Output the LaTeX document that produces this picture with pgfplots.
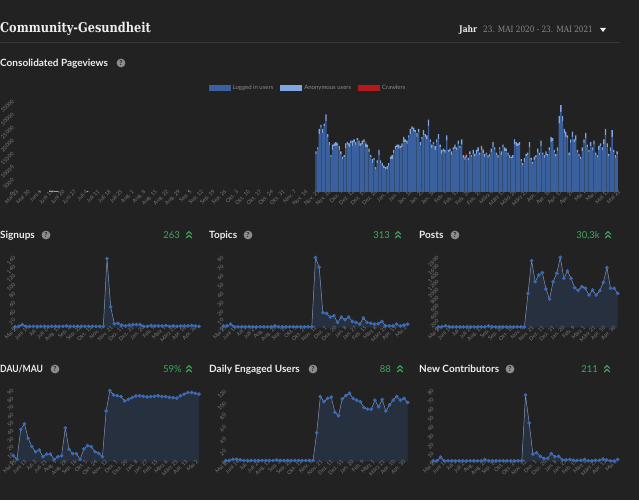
\documentclass[border=0pt]{standalone}
\usepackage{pgfplots}
\pgfplotsset{compat=1.18}
\usepackage{pgfplotstable}
\usepackage{fontspec}
\setmainfont{Lato}
\newfontfamily\slab[FakeStretch=0.84]{DejaVu Serif}
\definecolor{bg}{HTML}{222222}
\definecolor{rulec}{HTML}{383838}
\definecolor{tickc}{HTML}{7A7A7A}
\definecolor{titlec}{HTML}{EDEDED}
\definecolor{grayc}{HTML}{8A8A8A}
\definecolor{grn}{HTML}{3DAA5A}
\definecolor{logged}{HTML}{3A619E}
\definecolor{anon}{HTML}{7FA6E0}
\definecolor{crawl}{HTML}{B3191C}
\definecolor{mk}{HTML}{3A6AB6}
\definecolor{lnc}{HTML}{8595B5}
\definecolor{qbg}{HTML}{8C8C8C}

\pgfplotsset{
  small/.style={
    scale only axis, anchor=south west, clip=false,
    xmin=0, xmax=350, ymin=0, enlargelimits=false,
    axis line style={draw=none}, major tick length=0pt,
    tick label style={font=\fontsize{5.4}{6}\selectfont, text=tickc},
    /pgf/number format/assume math mode=true,
    /pgf/number format/1000 sep={},
    yticklabel style={rotate=45, anchor=east, inner sep=0.5pt},
    xticklabel style={rotate=45, anchor=east, inner sep=0.5pt, xshift=3pt, yshift=-1pt},
    scaled y ticks=false,
  },
  xtwenty/.style={xtick={0,20,...,340},
    xticklabels={Mai 25,Juni 14,Juli 4,Juli 24,Aug. 13,Sep. 2,Sep. 22,Okt. 12,Nov. 1,Nov. 21,Dez. 11,Dez. 31,Jan. 20,Feb. 9,März 1,März 21,Apr. 10,Apr. 30}},
  xnineteen/.style={xtick={0,19,...,342},
    xticklabels={Mai 25,Juni 13,Juli 2,Juli 21,Aug. 9,Aug. 28,Sep. 16,Okt. 5,Okt. 24,Nov. 12,Dez. 1,Dez. 20,Jan. 8,Jan. 27,Feb. 15,März 6,März 25,Apr. 13,Mai 2}},
  areaf/.style={fill=mk, fill opacity=0.2, draw=none},
  linep/.style={lnc, line width=0.5pt, mark=*, mark size=1.6pt, mark options={fill=mk, draw=mk}},
}

\newcommand{\chev}[1]{\begin{scope}[shift={(#1)}]
  \draw[grn, line width=1.1pt] (-2.8pt,0.6pt) -- (0pt,3.3pt) -- (2.8pt,0.6pt);
  \draw[grn, line width=1.1pt] (-2.8pt,-3pt) -- (0pt,-0.3pt) -- (2.8pt,-3pt);
\end{scope}}
\newcommand{\qmark}[1]{\fill[qbg] (#1) circle (4.4pt);
  \node[font=\bfseries\fontsize{6.8}{7}\selectfont, text=bg, inner sep=0pt] at (#1) {?};}

\pgfplotstableread{
d l a c
15 0 0.2 0
21 0 0.3 0
22 0 0.4 0
23 0 0.5 0
24 0 0.3 0
25 0 0.4 0
26 0 0.3 0
44 0 0.3 0
105 0.1 0.3 0
182 14.3 1.2 0
183 16.2 0.8 0
184 22 2 0
185 24.5 1 0
186 22.5 1.5 0
187 25.1 0.9 0
188 27 2.5 0
189 20.9 1.1 0
190 17.8 1.2 0
191 13.2 0.8 0
192 16 2 0
193 17.5 1 0
194 17.5 1.5 0
195 17.6 0.9 0
196 16 1.5 0
197 14.4 1.1 0
198 12.3 1.2 0
199 13.2 0.8 0
200 16.5 2 0
201 18 1 0
202 17 1.5 0
203 18.6 0.9 0
204 17.5 2 0
205 18.9 1.1 0
206 17.8 1.2 0
207 19.7 0.8 0
208 17.5 2 0
209 17.5 1 0
210 18 1.5 0
211 19.1 0.9 0
212 17 1.5 0.8
213 16.9 1.1 0
214 15.3 1.2 0
215 13.2 0.8 0
216 11 1.5 0
217 12 1 0
218 8.5 1 0
219 11.1 0.9 0
220 14 2 0
221 10.9 1.1 0
222 9.8 1.2 0
223 9.2 0.8 0
224 8.5 1 0
225 8.8 1 0
226 9.9 1.1 0
227 12.6 0.9 0
228 12.5 1.5 0
229 14.9 1.1 0
230 16.3 1.2 0
231 17.2 0.8 0
232 16.5 1.5 0
233 16.5 1 0
234 17 1.5 0
235 19 2 0
236 18.9 1.1 0
237 18.3 1.2 0
238 20.7 0.8 0
239 22 2 0
240 24 1 0
241 23 1.5 0
242 22.6 0.9 0
243 21 1.5 0
244 22.9 1.1 0
245 17.8 1.2 0
246 20.2 0.8 0
247 21.5 2 0
248 21 1 0
249 20 1.5 0
250 25 2.5 0
251 18.9 1.1 0
252 16.8 1.2 0
253 18.2 0.8 0
254 16 1.5 0
255 19 1 0
256 20 2 0
257 17.1 0.9 0
258 14.5 1.5 0
259 15.4 1.1 0
260 14.8 1.2 0
261 19.5 2 0
262 15.2 0.8 0
263 15.5 1 0
264 14 1.5 0
265 16.1 0.9 0
266 16.5 1.5 0
267 15.9 1.1 0
268 18.3 1.2 0
269 16.7 0.8 0
270 18 2 0
271 13 1 0
272 12 1.5 0.5
273 13.1 0.9 0.6
274 11.9 1.1 0
275 14.3 1.2 0
276 13.2 0.8 0
277 14.5 1.5 0
278 13.5 1 0
279 14.5 1.5 0
280 15.5 1.5 0
281 14.1 0.9 0
282 16 1.5 0
283 14.9 1.1 0.6
284 13.3 1.2 0
285 14.2 0.8 0
286 13 1 0
287 13.5 1 0
288 15 1.5 0
289 17 2 0
290 16.1 0.9 0
291 13.9 1.1 0
292 12.8 1.2 0
293 16.2 0.8 0
294 14 1.5 0
295 17 1 0
296 15.5 1.5 0
297 15.6 0.9 0
298 13.9 1.1 0
299 12.8 1.2 0
300 12.7 0.8 0
301 13 1 0
302 18 2 0
303 17.5 1.5 0
304 17.4 1.1 0
305 17.8 1.2 0
306 11.7 0.8 0
307 10 1 0
308 11.5 1.5 0
309 13.6 0.9 0
310 13.9 1.1 0
311 17 2 0
312 12.2 0.8 0
313 10.5 1 0
314 12 1.5 0
315 13.1 0.9 0
316 15 1.5 0
317 13.9 1.1 0
318 17.5 2 0
319 14.2 0.8 0
320 13 1 0
321 14 1.5 0
322 13.6 0.9 0
323 15.9 1.1 0
324 19 2 0
325 19.3 1.2 0
326 15.2 0.8 0
327 13.5 1 0
328 15.5 1.5 0
329 26 3 0
330 30.5 2.5 0
331 27 2 0
332 22.5 1.5 0
333 21 2 0
334 20.5 1 0
335 14 1 0
336 18.5 1.5 0
337 21 2 0
338 19 1 0
339 19.5 2 0
340 15 1 0
341 13.5 1 0
342 12.6 0.9 0
343 15.5 1.5 0
344 18.5 1.5 0
345 20.5 2 0
346 17 1 0
347 15 1 0
348 17.5 1.5 0
349 16 1 0
350 18 1.5 0
351 14 1 0
352 13.1 0.9 0
353 16 1.5 0
354 17.4 1.1 0
355 16 1 0
356 18 2 0
357 21.5 2.5 0
358 17 1.5 0
359 13.5 1 0
360 15.5 1.5 0
361 21 2.5 0
362 15 1 0
363 13 1 0
364 14.3 1.2 0
}\pv

\pgfplotstableread[row sep=\\]{y\\2\\3\\7\\3\\3\\3\\3\\3\\3\\3\\3\\3\\3\\3\\4\\3\\3\\3\\3\\3\\3\\3\\3\\3\\3\\156\\47\\9\\10\\6\\4\\6\\7\\7\\7\\3\\3\\5\\4\\4\\4\\5\\3\\4\\3\\4\\4\\4\\5\\4\\3\\}\signups
\pgfplotstableread[row sep=\\]{y\\2\\2\\4\\1\\1\\1\\1\\1\\1\\1\\1\\1\\1\\1\\2\\1\\1\\1\\1\\1\\1\\1\\1\\1\\1\\79\\68\\17\\16\\12\\13.5\\6\\12\\9\\12\\7\\6\\4\\11\\6\\5\\4\\4.5\\7\\2\\2\\2\\4\\2\\3\\4\\}\topics
\pgfplotstableread[row sep=\\]{y\\20\\25\\50\\25\\20\\20\\20\\20\\20\\20\\20\\20\\20\\20\\45\\25\\20\\20\\20\\20\\20\\20\\20\\20\\20\\870\\1700\\1166\\1335\\1395\\980\\727\\1166\\1377\\1783\\1250\\1437\\1250\\1014\\946\\1040\\1000\\828\\955\\828\\938\\1150\\1521\\1000\\1000\\870\\}\posts
\pgfplotstableread[row sep=\\]{y\\7.5\\3.3\\40\\47\\29\\18.7\\12.4\\14.5\\6.2\\9.5\\9.5\\2.9\\6.2\\7.5\\42\\15.4\\10\\10\\2.9\\15.8\\20\\18.7\\12.4\\10.4\\6.2\\63\\88.4\\83\\82\\81\\75.5\\77.6\\79.7\\81.7\\82\\81.3\\80.5\\81\\81.3\\82\\81\\81\\80\\79.7\\79\\82\\84\\86\\86\\85\\84\\}\dau
\pgfplotstableread[row sep=\\]{y\\2\\2\\4\\4\\3\\2\\2\\2\\2\\2\\2\\2\\2\\2\\3\\2\\2\\2\\2\\2\\2\\2\\2\\2\\2\\48.6\\109\\100.5\\106\\108\\82.7\\77\\105\\110.6\\114.5\\106\\103\\100.5\\90.5\\88\\88\\103\\92\\104\\85\\95\\103\\109\\103\\106\\99\\}\deu
\pgfplotstableread[row sep=\\]{y\\1\\1\\5\\1\\1\\1\\1\\1\\1\\1\\1\\1\\1\\1\\2.5\\1\\1\\1\\1\\1\\1\\1\\1\\1\\1\\74\\43\\8.5\\10\\6\\3.7\\3.7\\9\\5.5\\6\\2\\2\\2.5\\1.5\\1.5\\1.5\\2.5\\1\\1\\1.5\\1.5\\3\\2\\1\\0.7\\2.5\\}\ncon

\begin{document}
\begin{tikzpicture}
\fill[bg] (0pt,0pt) rectangle (639pt,500pt);
\useasboundingbox (0pt,0pt) rectangle (639pt,500pt);

% header
\node[anchor=base west, inner sep=0pt, text=titlec, font=\slab\bfseries\fontsize{13.5}{15}\selectfont] at (0pt,467pt) {Community-Gesundheit};
\node[anchor=base west, inner sep=0pt, text=titlec, font=\slab\bfseries\fontsize{9}{10}\selectfont] at (459pt,467.5pt) {Jahr};
\node[anchor=base west, inner sep=0pt, text=grayc, font=\slab\fontsize{8.7}{10}\selectfont] at (483pt,467.5pt) {23. MAI 2020 - 23. MAI 2021};
\fill[titlec] (600pt,472pt) -- (606pt,472pt) -- (603pt,468pt) -- cycle;
\draw[rulec, line width=0.7pt] (0pt,458pt) -- (620pt,458pt);

\node[anchor=base west, inner sep=0pt, text=titlec, font=\bfseries\fontsize{10}{11}\selectfont] at (0pt,433.5pt) {Consolidated Pageviews};
\qmark{121pt,437pt}

% pageviews
\begin{axis}[scale only axis, anchor=south west, at={(13.35pt,308pt)},
  width=605.4pt, height=92pt, xmin=-1, xmax=365, ymin=0, ymax=35,
  ybar stacked, bar width=0.8, enlargelimits=false,
  axis line style={draw=none}, major tick length=0pt,
  tick label style={font=\fontsize{5.4}{6}\selectfont, text=tickc},
  ytick={0,5,...,35}, yticklabels={0,5000,10000,15000,20000,25000,30000,35000},
  yticklabel style={rotate=45, anchor=east, inner sep=0.5pt},
  xtick={0,7,...,364},
  xticklabels={Mai 23,Mai 30,Juni 6,Juni 13,Juni 20,Juni 27,Juli 4,Juli 11,Juli 18,Juli 25,Aug. 1,Aug. 8,Aug. 15,Aug. 22,Aug. 29,Sep. 5,Sep. 12,Sep. 19,Sep. 26,Okt. 3,Okt. 10,Okt. 17,Okt. 24,Okt. 31,Nov. 7,Nov. 14,Nov. 21,Nov. 28,Dez. 5,Dez. 12,Dez. 19,Dez. 26,Jan. 2,Jan. 9,Jan. 16,Jan. 23,Jan. 30,Feb. 6,Feb. 13,Feb. 20,Feb. 27,März 6,März 13,März 20,März 27,Apr. 3,Apr. 10,Apr. 17,Apr. 24,Mai 1,Mai 8,Mai 15,Mai 22},
  xticklabel style={rotate=45, anchor=east, inner sep=0.5pt, xshift=3pt, yshift=-1pt},
  legend style={at={(0.4867,1.13)}, anchor=center, draw=none, fill=none,
    text=grayc, font=\fontsize{6}{7}\selectfont, legend columns=3,
    /tikz/every even column/.append style={column sep=5pt}},
  legend image code/.code={\fill[#1] (0pt,-3.3pt) rectangle (22pt,3.3pt);},
]
\addplot[fill=logged, draw=none] table[x=d, y=l]{\pv};
\addplot[fill=anon, draw=none] table[x=d, y=a]{\pv};
\addplot[fill=crawl, draw=none] table[x=d, y=c]{\pv};
\legend{Logged in users, Anonymous users, Crawlers}
\end{axis}

% row 1 titles
\node[anchor=base west, inner sep=0pt, text=titlec, font=\bfseries\fontsize{10}{11}\selectfont] at (0pt,261.3pt) {Signups};
\qmark{46pt,265pt}
\node[anchor=base east, inner sep=0pt, text=grn, font=\fontsize{9.5}{11}\selectfont] at (180pt,261.3pt) {263};
\chev{189pt,265pt}
\node[anchor=base west, inner sep=0pt, text=titlec, font=\bfseries\fontsize{10}{11}\selectfont] at (209pt,261.3pt) {Topics};
\qmark{248pt,265pt}
\node[anchor=base east, inner sep=0pt, text=grn, font=\fontsize{9.5}{11}\selectfont] at (390pt,261.3pt) {313};
\chev{398pt,265pt}
\node[anchor=base west, inner sep=0pt, text=titlec, font=\bfseries\fontsize{10}{11}\selectfont] at (419pt,261.3pt) {Posts};
\qmark{455pt,265pt}
\node[anchor=base east, inner sep=0pt, text=grn, font=\fontsize{9.5}{11}\selectfont] at (600pt,261.3pt) {30,3k};
\chev{608pt,265pt}

% row 2 titles
\node[anchor=base west, inner sep=0pt, text=titlec, font=\bfseries\fontsize{10}{11}\selectfont] at (0pt,127.3pt) {\scalebox{0.86}[1]{DAU/MAU}};
\qmark{55pt,131pt}
\node[anchor=base east, inner sep=0pt, text=grn, font=\fontsize{9.5}{11}\selectfont] at (182pt,127.3pt) {59\%};
\chev{189pt,131pt}
\node[anchor=base west, inner sep=0pt, text=titlec, font=\bfseries\fontsize{10}{11}\selectfont] at (209pt,127.3pt) {Daily Engaged Users};
\qmark{313pt,131pt}
\node[anchor=base east, inner sep=0pt, text=grn, font=\fontsize{9.5}{11}\selectfont] at (391pt,127.3pt) {88};
\chev{400pt,131pt}
\node[anchor=base west, inner sep=0pt, text=titlec, font=\bfseries\fontsize{10}{11}\selectfont] at (419pt,127.3pt) {New Contributors};
\qmark{510pt,131pt}
\node[anchor=base east, inner sep=0pt, text=grn, font=\fontsize{9.5}{11}\selectfont] at (598pt,127.3pt) {211};
\chev{607pt,131pt}

% small charts
\begin{axis}[small, xtwenty, at={(15pt,172.3pt)}, width=184pt, height=71pt, ymax=160, ytick={0,20,...,160}]
\addplot[areaf] table[x expr=\coordindex*7, y=y]{\signups} \closedcycle;
\addplot[linep] table[x expr=\coordindex*7, y=y]{\signups};
\end{axis}
\begin{axis}[small, xnineteen, at={(223.3pt,172.3pt)}, width=184.4pt, height=71pt, ymax=80, ytick={0,10,...,80}]
\addplot[areaf] table[x expr=\coordindex*7, y=y]{\topics} \closedcycle;
\addplot[linep] table[x expr=\coordindex*7, y=y]{\topics};
\end{axis}
\begin{axis}[small, xtwenty, at={(438.3pt,172.3pt)}, width=179.4pt, height=71pt, ymax=1800, ytick={0,200,...,1800}]
\addplot[areaf] table[x expr=\coordindex*7, y=y]{\posts} \closedcycle;
\addplot[linep] table[x expr=\coordindex*7, y=y]{\posts};
\end{axis}
\begin{axis}[small, xnineteen, at={(13.3pt,38.3pt)}, width=185.7pt, height=72.4pt, ymax=90, ytick={0,10,...,90}]
\addplot[areaf] table[x expr=\coordindex*7, y=y]{\dau} \closedcycle;
\addplot[linep] table[x expr=\coordindex*7, y=y]{\dau};
\end{axis}
\begin{axis}[small, xtwenty, at={(225.7pt,38.3pt)}, width=182pt, height=71.7pt, ymax=120, ytick={0,20,...,120}]
\addplot[areaf] table[x expr=\coordindex*7, y=y]{\deu} \closedcycle;
\addplot[linep] table[x expr=\coordindex*7, y=y]{\deu};
\end{axis}
\begin{axis}[small, xnineteen, at={(433.3pt,38.3pt)}, width=184.4pt, height=72pt, ymax=80, ytick={0,10,...,80}]
\addplot[areaf] table[x expr=\coordindex*7, y=y]{\ncon} \closedcycle;
\addplot[linep] table[x expr=\coordindex*7, y=y]{\ncon};
\end{axis}
\end{tikzpicture}
\end{document}
